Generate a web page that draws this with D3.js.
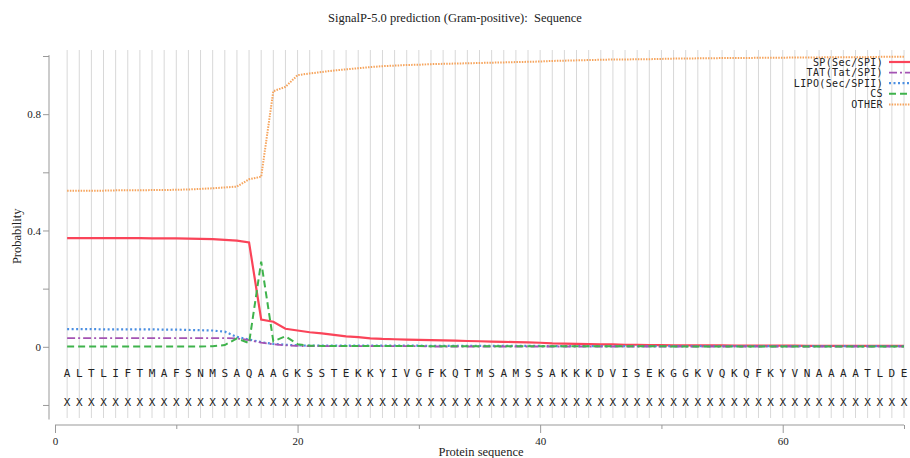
<!DOCTYPE html>
<html>
<head>
<meta charset="utf-8">
<script src="https://cdn.jsdelivr.net/npm/d3@7"></script>
<style>
  body { margin: 0; background: #fff; }
  svg { display: block; }
  .serif { font-family: "Liberation Serif", "DejaVu Serif", serif; fill: #222; }
  .mono { font-family: "DejaVu Sans Mono", "Liberation Mono", monospace; fill: #222; }
</style>
</head>
<body>
<div id="chart"></div>
<script>
// sequence shown under the plot (positions 1..70)
var residues = "ALTLIFTMAFSNMSAQAAGKSSTEKKYIVGFKQTMSAMSSAKKKDVISEKGGKVQKQFKYVNAAAATLDE".split("");
var positions = residues.map(function(d, i) { return i + 1; });

// probabilities per position
var spValues = [0.374,0.374,0.374,0.374,0.374,0.374,0.374,0.373,0.373,0.373,
                0.372,0.371,0.370,0.368,0.365,0.359,0.094,0.086,0.062,0.056,
                0.050,0.046,0.041,0.036,0.033,0.029,0.027,0.026,0.025,0.024,
                0.023,0.022,0.021,0.020,0.019,0.018,0.017,0.016,0.015,0.014,
                0.012,0.011,0.010,0.009,0.008,0.008,0.007,0.007,0.006,0.006,
                0.005,0.005,0.005,0.005,0.005,0.004,0.004,0.004,0.004,0.004,
                0.004,0.003,0.003,0.003,0.003,0.003,0.003,0.003,0.003,0.003];
var tatValues = [0.030,0.030,0.030,0.030,0.030,0.030,0.030,0.030,0.030,0.030,
                 0.030,0.030,0.030,0.030,0.029,0.023,0.014,0.009,0.005,0.003,
                 0.002,0.002,0.002,0.002,0.002,0.002,0.002,0.002,0.002,0.002,
                 0.001,0.001,0.001,0.001,0.001,0.001,0.001,0.001,0.001,0.001,
                 0.001,0.001,0.001,0.001,0.001,0.001,0.001,0.001,0.001,0.001,
                 0.001,0.001,0.001,0.001,0.001,0.001,0.001,0.001,0.001,0.001,
                 0.001,0.001,0.001,0.001,0.001,0.001,0.001,0.001,0.001,0.001];
var lipoValues = [0.061,0.061,0.061,0.060,0.060,0.060,0.060,0.060,0.059,0.059,
                  0.058,0.057,0.056,0.052,0.034,0.025,0.016,0.010,0.007,0.005,
                  0.004,0.004,0.004,0.004,0.004,0.004,0.004,0.004,0.004,0.004,
                  0.003,0.003,0.003,0.003,0.003,0.003,0.003,0.003,0.003,0.003,
                  0.002,0.002,0.002,0.002,0.002,0.002,0.002,0.002,0.002,0.002,
                  0.002,0.002,0.002,0.002,0.002,0.002,0.002,0.002,0.002,0.002,
                  0.002,0.002,0.002,0.002,0.002,0.002,0.002,0.002,0.002,0.002];
var csValues = [0.001,0.001,0.001,0.001,0.001,0.001,0.001,0.001,0.001,0.001,
                0.001,0.001,0.002,0.006,0.029,0.013,0.293,0.019,0.036,0.009,
                0.004,0.003,0.003,0.003,0.003,0.003,0.003,0.003,0.003,0.003,
                0.002,0.002,0.002,0.002,0.002,0.002,0.002,0.002,0.002,0.002,
                0.002,0.002,0.002,0.002,0.002,0.002,0.002,0.002,0.002,0.002,
                0.001,0.001,0.001,0.001,0.001,0.001,0.001,0.001,0.001,0.001,
                0.001,0.001,0.001,0.001,0.001,0.001,0.001,0.001,0.001,0.001];
var otherValues = [0.537,0.537,0.537,0.537,0.538,0.538,0.538,0.539,0.539,0.540,
                   0.541,0.543,0.545,0.548,0.551,0.576,0.585,0.879,0.894,0.934,
                   0.940,0.945,0.950,0.954,0.958,0.962,0.965,0.967,0.969,0.970,
                   0.972,0.973,0.974,0.975,0.976,0.977,0.978,0.979,0.980,0.981,
                   0.983,0.984,0.985,0.986,0.987,0.988,0.988,0.989,0.989,0.990,
                   0.991,0.991,0.992,0.992,0.993,0.993,0.993,0.994,0.994,0.994,
                   0.995,0.995,0.995,0.996,0.996,0.996,0.996,0.997,0.997,0.997];

var seriesNames = ["SP(Sec/SPI)", "TAT(Tat/SPI)", "LIPO(Sec/SPII)", "CS", "OTHER"];
var seriesValues = [spValues, tatValues, lipoValues, csValues, otherValues];

var yTicks = [-0.2, 0, 0.2, 0.4, 0.6, 0.8, 1.0];
var yTickLabels = ["", "0", "", "0.4", "", "0.8", ""];
var xTicks = [0, 10, 20, 30, 40, 50, 60, 70];
var xTickLabels = ["0", "", "20", "", "40", "", "60", ""];

// styles for each line
var styles = [
  { color: "#fa4459", width: 2.2, dash: null },
  { color: "#a453b3", width: 1.8, dash: "8,3,2,3" },
  { color: "#4b8fe2", width: 2.2, dash: "2,2.5" },
  { color: "#3fb34c", width: 2, dash: "7,4" },
  { color: "#f6a45c", width: 2, dash: "1.5,1.2" }
];

var W = 910, H = 458;
var svg = d3.select("#chart").append("svg")
  .attr("width", W)
  .attr("height", H);

var x = d3.scaleLinear().domain([0, 70]).range([55, 904]);
var y = d3.scaleLinear().domain([-0.25, 1]).range([419.5, 56]);

// title (two spaces before "Sequence" as in the original)
svg.append("text")
  .attr("class", "serif")
  .attr("x", 455)
  .attr("y", 22)
  .attr("text-anchor", "middle")
  .style("font-size", "12.5px")
  .style("white-space", "pre")
  .text("SignalP-5.0 prediction (Gram-positive):  Sequence");

// vertical grid at every residue
svg.append("g").selectAll("line")
  .data(positions)
  .enter()
  .append("line")
  .attr("x1", d => x(d))
  .attr("x2", d => x(d))
  .attr("y1", 50)
  .attr("y2", 418)
  .attr("stroke", "#d8d8d8")
  .attr("stroke-width", 1);

// y axis
var yAxis = d3.axisLeft(y)
  .tickValues(yTicks)
  .tickSize(6)
  .tickFormat(function(d, i) { return yTickLabels[i]; });
var yG = svg.append("g")
  .attr("transform", "translate(49,0)")
  .call(yAxis);
yG.select(".domain").attr("stroke", "#999").attr("d", "M0," + y(1.003) + "V" + y(-0.25));
yG.selectAll(".tick line").attr("stroke", "#999");
yG.selectAll(".tick text")
  .attr("class", "serif")
  .attr("x", -8)
  .style("font-size", "11px");

svg.append("text")
  .attr("class", "serif")
  .attr("transform", "translate(21," + y(0.38) + ") rotate(-90)")
  .attr("text-anchor", "middle")
  .style("font-size", "12.5px")
  .text("Probability");

// x axis
var xAxis = d3.axisBottom(x)
  .tickValues(xTicks)
  .tickSize(0)
  .tickFormat(function(d, i) { return xTickLabels[i]; });
var xG = svg.append("g")
  .attr("transform", "translate(0,425)")
  .call(xAxis);
xG.select(".domain").attr("stroke", "#999").attr("d", "M" + x(0) + ",0H" + x(70));
xG.selectAll(".tick line")
  .attr("stroke", "#999")
  .attr("y2", function(d, i) { return xTickLabels[i] ? 8 : 4; });
xG.selectAll(".tick text")
  .attr("class", "serif")
  .attr("y", 12)
  .style("font-size", "11px");

svg.append("text")
  .attr("class", "serif")
  .attr("x", 481)
  .attr("y", 456)
  .attr("text-anchor", "middle")
  .style("font-size", "12.5px")
  .text("Protein sequence");

// residue letters and the X row
svg.append("g").selectAll("text")
  .data(residues)
  .enter()
  .append("text")
  .attr("class", "mono")
  .attr("x", (d, i) => x(positions[i]))
  .attr("y", 377)
  .attr("text-anchor", "middle")
  .style("font-size", "11px")
  .text(d => d);

svg.append("g").selectAll("text")
  .data(residues)
  .enter()
  .append("text")
  .attr("class", "mono")
  .attr("x", (d, i) => x(positions[i]))
  .attr("y", 406)
  .attr("text-anchor", "middle")
  .style("font-size", "11px")
  .text("X");

// lines
var line = d3.line()
  .x((d, i) => x(positions[i]))
  .y(d => y(d));

var order = [4, 0, 2, 1, 3];
order.forEach(function(k) {
  svg.append("path")
    .datum(seriesValues[k])
    .attr("d", line)
    .attr("fill", "none")
    .attr("stroke", styles[k].color)
    .attr("stroke-width", styles[k].width)
    .attr("stroke-dasharray", styles[k].dash);
});

// legend
var legend = svg.append("g");
seriesNames.forEach(function(name, i) {
  var ly = 62 + i * 10.6;
  legend.append("text")
    .attr("class", "mono")
    .attr("x", 883)
    .attr("y", ly + 3.5)
    .attr("text-anchor", "end")
    .style("font-size", "10px")
    .style("letter-spacing", "0.35px")
    .text(name);
  legend.append("line")
    .attr("x1", 889)
    .attr("x2", 915)
    .attr("y1", ly)
    .attr("y2", ly)
    .attr("stroke", styles[i].color)
    .attr("stroke-width", styles[i].width)
    .attr("stroke-dasharray", styles[i].dash);
});
</script>
</body>
</html>
